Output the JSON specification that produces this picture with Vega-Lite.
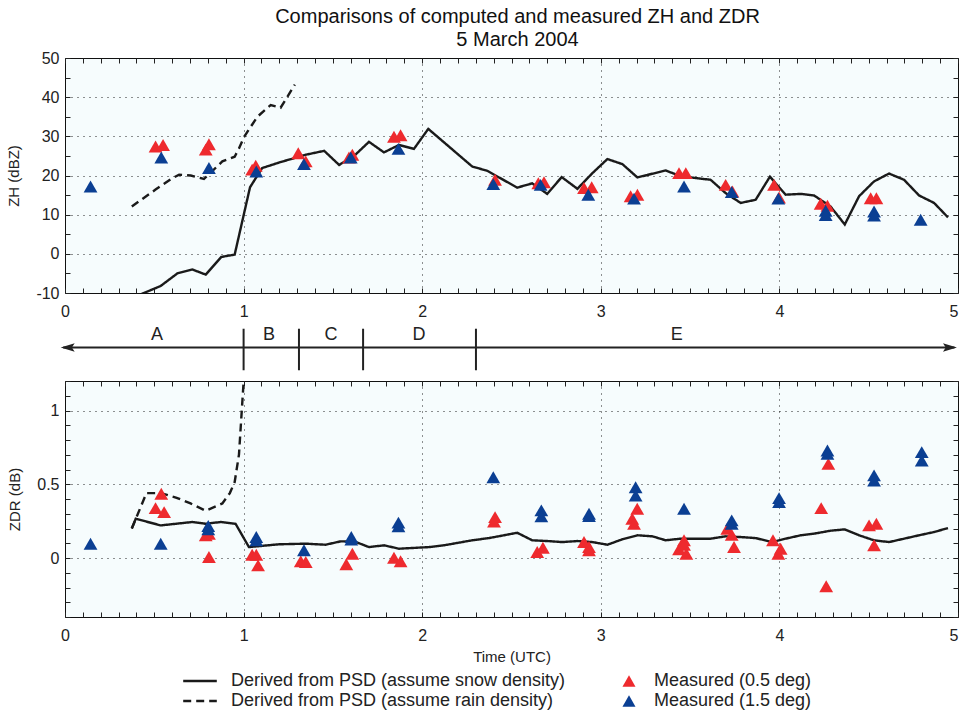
{
  "$schema": "https://vega.github.io/schema/vega-lite/v6.json",
  "padding": {"left": 6, "top": 6, "right": 0, "bottom": 0},
  "autosize": {"type": "pad"},
  "background": "white",
  "bounds": "flush",
  "spacing": 0,
  "title": {
    "text": ["Comparisons of computed and measured ZH and ZDR", "5 March 2004"],
    "fontSize": 20, "font": "Liberation Sans", "fontWeight": "normal", "color": "#111",
    "lineHeight": 23, "anchor": "middle", "frame": "group", "offset": 0, "dx": 6
  },
  "resolve": {"scale": {"color": "independent", "strokeDash": "independent", "shape": "independent"}},
  "config": {
    "font": "Liberation Sans",
    "view": {"stroke": "#111", "strokeWidth": 1, "fill": "#f6fcfd"},
    "axis": {
      "domain": false, "labelFont": "Liberation Sans", "labelFontSize": 16, "labelColor": "#222",
      "tickColor": "#222", "tickWidth": 1, "tickSize": -5, "gridColor": "#222", "gridDash": [1, 5],
      "gridWidth": 1, "labelFlush": false, "labelOverlap": false, "titleFont": "Liberation Sans",
      "titleFontSize": 15, "titleFontWeight": "normal", "titleColor": "#222"
    },
    "legend": {"labelFont": "Liberation Sans", "labelFontSize": 18, "labelColor": "#222", "labelLimit": 0}
  },
  "datasets": {
    "zh_lines": [
      {"time": 0.374, "value": -11.3, "series": "Derived from PSD (assume snow density)"},
      {"time": 0.536, "value": -8.2, "series": "Derived from PSD (assume snow density)"},
      {"time": 0.629, "value": -5.0, "series": "Derived from PSD (assume snow density)"},
      {"time": 0.713, "value": -4.0, "series": "Derived from PSD (assume snow density)"},
      {"time": 0.788, "value": -5.3, "series": "Derived from PSD (assume snow density)"},
      {"time": 0.875, "value": -0.8, "series": "Derived from PSD (assume snow density)"},
      {"time": 0.950, "value": -0.2, "series": "Derived from PSD (assume snow density)"},
      {"time": 1.036, "value": 17.0, "series": "Derived from PSD (assume snow density)"},
      {"time": 1.104, "value": 21.9, "series": "Derived from PSD (assume snow density)"},
      {"time": 1.198, "value": 23.3, "series": "Derived from PSD (assume snow density)"},
      {"time": 1.348, "value": 25.3, "series": "Derived from PSD (assume snow density)"},
      {"time": 1.451, "value": 26.3, "series": "Derived from PSD (assume snow density)"},
      {"time": 1.535, "value": 22.7, "series": "Derived from PSD (assume snow density)"},
      {"time": 1.619, "value": 25.0, "series": "Derived from PSD (assume snow density)"},
      {"time": 1.702, "value": 28.6, "series": "Derived from PSD (assume snow density)"},
      {"time": 1.786, "value": 25.9, "series": "Derived from PSD (assume snow density)"},
      {"time": 1.870, "value": 27.8, "series": "Derived from PSD (assume snow density)"},
      {"time": 1.954, "value": 26.8, "series": "Derived from PSD (assume snow density)"},
      {"time": 2.034, "value": 31.9, "series": "Derived from PSD (assume snow density)"},
      {"time": 2.280, "value": 22.3, "series": "Derived from PSD (assume snow density)"},
      {"time": 2.364, "value": 21.2, "series": "Derived from PSD (assume snow density)"},
      {"time": 2.532, "value": 16.9, "series": "Derived from PSD (assume snow density)"},
      {"time": 2.616, "value": 18.0, "series": "Derived from PSD (assume snow density)"},
      {"time": 2.700, "value": 15.3, "series": "Derived from PSD (assume snow density)"},
      {"time": 2.781, "value": 19.6, "series": "Derived from PSD (assume snow density)"},
      {"time": 2.869, "value": 16.6, "series": "Derived from PSD (assume snow density)"},
      {"time": 2.953, "value": 20.6, "series": "Derived from PSD (assume snow density)"},
      {"time": 3.037, "value": 24.2, "series": "Derived from PSD (assume snow density)"},
      {"time": 3.121, "value": 22.9, "series": "Derived from PSD (assume snow density)"},
      {"time": 3.205, "value": 19.5, "series": "Derived from PSD (assume snow density)"},
      {"time": 3.363, "value": 21.3, "series": "Derived from PSD (assume snow density)"},
      {"time": 3.447, "value": 19.8, "series": "Derived from PSD (assume snow density)"},
      {"time": 3.615, "value": 18.9, "series": "Derived from PSD (assume snow density)"},
      {"time": 3.699, "value": 15.5, "series": "Derived from PSD (assume snow density)"},
      {"time": 3.783, "value": 13.0, "series": "Derived from PSD (assume snow density)"},
      {"time": 3.867, "value": 13.8, "series": "Derived from PSD (assume snow density)"},
      {"time": 3.947, "value": 19.7, "series": "Derived from PSD (assume snow density)"},
      {"time": 4.035, "value": 15.1, "series": "Derived from PSD (assume snow density)"},
      {"time": 4.119, "value": 15.3, "series": "Derived from PSD (assume snow density)"},
      {"time": 4.194, "value": 14.9, "series": "Derived from PSD (assume snow density)"},
      {"time": 4.286, "value": 12.1, "series": "Derived from PSD (assume snow density)"},
      {"time": 4.366, "value": 7.5, "series": "Derived from PSD (assume snow density)"},
      {"time": 4.446, "value": 14.7, "series": "Derived from PSD (assume snow density)"},
      {"time": 4.530, "value": 18.5, "series": "Derived from PSD (assume snow density)"},
      {"time": 4.614, "value": 20.5, "series": "Derived from PSD (assume snow density)"},
      {"time": 4.698, "value": 18.9, "series": "Derived from PSD (assume snow density)"},
      {"time": 4.782, "value": 14.9, "series": "Derived from PSD (assume snow density)"},
      {"time": 4.866, "value": 13.0, "series": "Derived from PSD (assume snow density)"},
      {"time": 4.944, "value": 9.3, "series": "Derived from PSD (assume snow density)"},
      {"time": 0.374, "value": 12.1, "series": "Derived from PSD (assume rain density)"},
      {"time": 0.507, "value": 16.4, "series": "Derived from PSD (assume rain density)"},
      {"time": 0.601, "value": 19.3, "series": "Derived from PSD (assume rain density)"},
      {"time": 0.639, "value": 20.2, "series": "Derived from PSD (assume rain density)"},
      {"time": 0.704, "value": 20.0, "series": "Derived from PSD (assume rain density)"},
      {"time": 0.778, "value": 19.1, "series": "Derived from PSD (assume rain density)"},
      {"time": 0.881, "value": 23.6, "series": "Derived from PSD (assume rain density)"},
      {"time": 0.950, "value": 24.8, "series": "Derived from PSD (assume rain density)"},
      {"time": 0.974, "value": 26.9, "series": "Derived from PSD (assume rain density)"},
      {"time": 1.003, "value": 29.9, "series": "Derived from PSD (assume rain density)"},
      {"time": 1.077, "value": 35.0, "series": "Derived from PSD (assume rain density)"},
      {"time": 1.152, "value": 38.0, "series": "Derived from PSD (assume rain density)"},
      {"time": 1.207, "value": 37.3, "series": "Derived from PSD (assume rain density)"},
      {"time": 1.287, "value": 43.2, "series": "Derived from PSD (assume rain density)"}
    ],
    "zh_points": [
      {"time": 0.507, "value": 27.4, "elev": "Measured (0.5 deg)"},
      {"time": 0.549, "value": 27.8, "elev": "Measured (0.5 deg)"},
      {"time": 0.788, "value": 26.6, "elev": "Measured (0.5 deg)"},
      {"time": 0.806, "value": 28.0, "elev": "Measured (0.5 deg)"},
      {"time": 1.048, "value": 21.5, "elev": "Measured (0.5 deg)"},
      {"time": 1.068, "value": 22.5, "elev": "Measured (0.5 deg)"},
      {"time": 1.306, "value": 25.7, "elev": "Measured (0.5 deg)"},
      {"time": 1.348, "value": 23.6, "elev": "Measured (0.5 deg)"},
      {"time": 1.590, "value": 24.6, "elev": "Measured (0.5 deg)"},
      {"time": 1.609, "value": 25.3, "elev": "Measured (0.5 deg)"},
      {"time": 1.842, "value": 29.9, "elev": "Measured (0.5 deg)"},
      {"time": 1.879, "value": 30.3, "elev": "Measured (0.5 deg)"},
      {"time": 2.408, "value": 18.9, "elev": "Measured (0.5 deg)"},
      {"time": 2.650, "value": 18.0, "elev": "Measured (0.5 deg)"},
      {"time": 2.682, "value": 18.3, "elev": "Measured (0.5 deg)"},
      {"time": 2.906, "value": 16.8, "elev": "Measured (0.5 deg)"},
      {"time": 2.949, "value": 17.0, "elev": "Measured (0.5 deg)"},
      {"time": 3.167, "value": 14.7, "elev": "Measured (0.5 deg)"},
      {"time": 3.205, "value": 15.1, "elev": "Measured (0.5 deg)"},
      {"time": 3.438, "value": 20.6, "elev": "Measured (0.5 deg)"},
      {"time": 3.476, "value": 20.6, "elev": "Measured (0.5 deg)"},
      {"time": 3.699, "value": 17.6, "elev": "Measured (0.5 deg)"},
      {"time": 3.737, "value": 15.9, "elev": "Measured (0.5 deg)"},
      {"time": 3.970, "value": 17.6, "elev": "Measured (0.5 deg)"},
      {"time": 3.998, "value": 14.4, "elev": "Measured (0.5 deg)"},
      {"time": 4.231, "value": 12.8, "elev": "Measured (0.5 deg)"},
      {"time": 4.269, "value": 12.3, "elev": "Measured (0.5 deg)"},
      {"time": 4.511, "value": 14.2, "elev": "Measured (0.5 deg)"},
      {"time": 4.543, "value": 14.2, "elev": "Measured (0.5 deg)"},
      {"time": 0.143, "value": 17.2, "elev": "Measured (1.5 deg)"},
      {"time": 0.539, "value": 24.6, "elev": "Measured (1.5 deg)"},
      {"time": 0.806, "value": 21.9, "elev": "Measured (1.5 deg)"},
      {"time": 1.071, "value": 21.0, "elev": "Measured (1.5 deg)"},
      {"time": 1.338, "value": 22.9, "elev": "Measured (1.5 deg)"},
      {"time": 1.600, "value": 24.6, "elev": "Measured (1.5 deg)"},
      {"time": 1.867, "value": 26.8, "elev": "Measured (1.5 deg)"},
      {"time": 2.398, "value": 17.8, "elev": "Measured (1.5 deg)"},
      {"time": 2.663, "value": 17.6, "elev": "Measured (1.5 deg)"},
      {"time": 2.930, "value": 15.1, "elev": "Measured (1.5 deg)"},
      {"time": 3.186, "value": 14.1, "elev": "Measured (1.5 deg)"},
      {"time": 3.466, "value": 17.2, "elev": "Measured (1.5 deg)"},
      {"time": 3.733, "value": 15.8, "elev": "Measured (1.5 deg)"},
      {"time": 3.994, "value": 14.1, "elev": "Measured (1.5 deg)"},
      {"time": 4.259, "value": 11.0, "elev": "Measured (1.5 deg)"},
      {"time": 4.259, "value": 9.9, "elev": "Measured (1.5 deg)"},
      {"time": 4.530, "value": 10.8, "elev": "Measured (1.5 deg)"},
      {"time": 4.530, "value": 9.8, "elev": "Measured (1.5 deg)"},
      {"time": 4.791, "value": 8.7, "elev": "Measured (1.5 deg)"}
    ],
    "zdr_lines": [
      {"time": 0.374, "value": 0.20, "series": "Derived from PSD (assume snow density)"},
      {"time": 0.396, "value": 0.266, "series": "Derived from PSD (assume snow density)"},
      {"time": 0.536, "value": 0.221, "series": "Derived from PSD (assume snow density)"},
      {"time": 0.713, "value": 0.244, "series": "Derived from PSD (assume snow density)"},
      {"time": 0.788, "value": 0.232, "series": "Derived from PSD (assume snow density)"},
      {"time": 0.871, "value": 0.244, "series": "Derived from PSD (assume snow density)"},
      {"time": 0.955, "value": 0.232, "series": "Derived from PSD (assume snow density)"},
      {"time": 1.030, "value": 0.074, "series": "Derived from PSD (assume snow density)"},
      {"time": 1.198, "value": 0.093, "series": "Derived from PSD (assume snow density)"},
      {"time": 1.348, "value": 0.097, "series": "Derived from PSD (assume snow density)"},
      {"time": 1.459, "value": 0.090, "series": "Derived from PSD (assume snow density)"},
      {"time": 1.544, "value": 0.113, "series": "Derived from PSD (assume snow density)"},
      {"time": 1.619, "value": 0.113, "series": "Derived from PSD (assume snow density)"},
      {"time": 1.702, "value": 0.074, "series": "Derived from PSD (assume snow density)"},
      {"time": 1.786, "value": 0.086, "series": "Derived from PSD (assume snow density)"},
      {"time": 1.870, "value": 0.063, "series": "Derived from PSD (assume snow density)"},
      {"time": 2.038, "value": 0.074, "series": "Derived from PSD (assume snow density)"},
      {"time": 2.122, "value": 0.086, "series": "Derived from PSD (assume snow density)"},
      {"time": 2.280, "value": 0.120, "series": "Derived from PSD (assume snow density)"},
      {"time": 2.374, "value": 0.135, "series": "Derived from PSD (assume snow density)"},
      {"time": 2.532, "value": 0.171, "series": "Derived from PSD (assume snow density)"},
      {"time": 2.616, "value": 0.120, "series": "Derived from PSD (assume snow density)"},
      {"time": 2.700, "value": 0.115, "series": "Derived from PSD (assume snow density)"},
      {"time": 2.784, "value": 0.108, "series": "Derived from PSD (assume snow density)"},
      {"time": 2.869, "value": 0.115, "series": "Derived from PSD (assume snow density)"},
      {"time": 2.953, "value": 0.108, "series": "Derived from PSD (assume snow density)"},
      {"time": 3.037, "value": 0.090, "series": "Derived from PSD (assume snow density)"},
      {"time": 3.121, "value": 0.127, "series": "Derived from PSD (assume snow density)"},
      {"time": 3.205, "value": 0.154, "series": "Derived from PSD (assume snow density)"},
      {"time": 3.289, "value": 0.147, "series": "Derived from PSD (assume snow density)"},
      {"time": 3.363, "value": 0.120, "series": "Derived from PSD (assume snow density)"},
      {"time": 3.447, "value": 0.131, "series": "Derived from PSD (assume snow density)"},
      {"time": 3.615, "value": 0.131, "series": "Derived from PSD (assume snow density)"},
      {"time": 3.699, "value": 0.147, "series": "Derived from PSD (assume snow density)"},
      {"time": 3.783, "value": 0.142, "series": "Derived from PSD (assume snow density)"},
      {"time": 3.867, "value": 0.135, "series": "Derived from PSD (assume snow density)"},
      {"time": 3.960, "value": 0.108, "series": "Derived from PSD (assume snow density)"},
      {"time": 4.035, "value": 0.131, "series": "Derived from PSD (assume snow density)"},
      {"time": 4.119, "value": 0.154, "series": "Derived from PSD (assume snow density)"},
      {"time": 4.194, "value": 0.165, "series": "Derived from PSD (assume snow density)"},
      {"time": 4.286, "value": 0.185, "series": "Derived from PSD (assume snow density)"},
      {"time": 4.366, "value": 0.194, "series": "Derived from PSD (assume snow density)"},
      {"time": 4.446, "value": 0.154, "series": "Derived from PSD (assume snow density)"},
      {"time": 4.530, "value": 0.120, "series": "Derived from PSD (assume snow density)"},
      {"time": 4.614, "value": 0.108, "series": "Derived from PSD (assume snow density)"},
      {"time": 4.782, "value": 0.154, "series": "Derived from PSD (assume snow density)"},
      {"time": 4.866, "value": 0.176, "series": "Derived from PSD (assume snow density)"},
      {"time": 4.944, "value": 0.203, "series": "Derived from PSD (assume snow density)"},
      {"time": 0.374, "value": 0.20, "series": "Derived from PSD (assume rain density)"},
      {"time": 0.456, "value": 0.44, "series": "Derived from PSD (assume rain density)"},
      {"time": 0.538, "value": 0.44, "series": "Derived from PSD (assume rain density)"},
      {"time": 0.621, "value": 0.41, "series": "Derived from PSD (assume rain density)"},
      {"time": 0.703, "value": 0.37, "series": "Derived from PSD (assume rain density)"},
      {"time": 0.788, "value": 0.32, "series": "Derived from PSD (assume rain density)"},
      {"time": 0.881, "value": 0.37, "series": "Derived from PSD (assume rain density)"},
      {"time": 0.923, "value": 0.44, "series": "Derived from PSD (assume rain density)"},
      {"time": 0.950, "value": 0.515, "series": "Derived from PSD (assume rain density)"},
      {"time": 0.974, "value": 0.70, "series": "Derived from PSD (assume rain density)"},
      {"time": 1.032, "value": 1.80, "series": "Derived from PSD (assume rain density)"}
    ],
    "zdr_points": [
      {"time": 0.507, "value": 0.338, "elev": "Measured (0.5 deg)"},
      {"time": 0.539, "value": 0.435, "elev": "Measured (0.5 deg)"},
      {"time": 0.555, "value": 0.311, "elev": "Measured (0.5 deg)"},
      {"time": 0.788, "value": 0.154, "elev": "Measured (0.5 deg)"},
      {"time": 0.806, "value": 0.165, "elev": "Measured (0.5 deg)"},
      {"time": 0.806, "value": 0.007, "elev": "Measured (0.5 deg)"},
      {"time": 1.048, "value": 0.022, "elev": "Measured (0.5 deg)"},
      {"time": 1.071, "value": 0.022, "elev": "Measured (0.5 deg)"},
      {"time": 1.081, "value": -0.050, "elev": "Measured (0.5 deg)"},
      {"time": 1.320, "value": -0.022, "elev": "Measured (0.5 deg)"},
      {"time": 1.348, "value": -0.027, "elev": "Measured (0.5 deg)"},
      {"time": 1.575, "value": -0.043, "elev": "Measured (0.5 deg)"},
      {"time": 1.609, "value": 0.029, "elev": "Measured (0.5 deg)"},
      {"time": 1.842, "value": 0.002, "elev": "Measured (0.5 deg)"},
      {"time": 1.879, "value": -0.022, "elev": "Measured (0.5 deg)"},
      {"time": 2.402, "value": 0.248, "elev": "Measured (0.5 deg)"},
      {"time": 2.408, "value": 0.277, "elev": "Measured (0.5 deg)"},
      {"time": 2.644, "value": 0.041, "elev": "Measured (0.5 deg)"},
      {"time": 2.676, "value": 0.070, "elev": "Measured (0.5 deg)"},
      {"time": 2.906, "value": 0.108, "elev": "Measured (0.5 deg)"},
      {"time": 2.934, "value": 0.075, "elev": "Measured (0.5 deg)"},
      {"time": 2.934, "value": 0.052, "elev": "Measured (0.5 deg)"},
      {"time": 3.176, "value": 0.266, "elev": "Measured (0.5 deg)"},
      {"time": 3.186, "value": 0.232, "elev": "Measured (0.5 deg)"},
      {"time": 3.204, "value": 0.334, "elev": "Measured (0.5 deg)"},
      {"time": 3.438, "value": 0.059, "elev": "Measured (0.5 deg)"},
      {"time": 3.466, "value": 0.120, "elev": "Measured (0.5 deg)"},
      {"time": 3.466, "value": 0.090, "elev": "Measured (0.5 deg)"},
      {"time": 3.479, "value": 0.029, "elev": "Measured (0.5 deg)"},
      {"time": 3.708, "value": 0.198, "elev": "Measured (0.5 deg)"},
      {"time": 3.733, "value": 0.158, "elev": "Measured (0.5 deg)"},
      {"time": 3.746, "value": 0.074, "elev": "Measured (0.5 deg)"},
      {"time": 3.964, "value": 0.120, "elev": "Measured (0.5 deg)"},
      {"time": 3.994, "value": 0.029, "elev": "Measured (0.5 deg)"},
      {"time": 4.007, "value": 0.063, "elev": "Measured (0.5 deg)"},
      {"time": 4.234, "value": 0.338, "elev": "Measured (0.5 deg)"},
      {"time": 4.262, "value": -0.192, "elev": "Measured (0.5 deg)"},
      {"time": 4.274, "value": 0.638, "elev": "Measured (0.5 deg)"},
      {"time": 4.502, "value": 0.221, "elev": "Measured (0.5 deg)"},
      {"time": 4.543, "value": 0.232, "elev": "Measured (0.5 deg)"},
      {"time": 4.530, "value": 0.086, "elev": "Measured (0.5 deg)"},
      {"time": 0.143, "value": 0.097, "elev": "Measured (1.5 deg)"},
      {"time": 0.536, "value": 0.097, "elev": "Measured (1.5 deg)"},
      {"time": 0.802, "value": 0.217, "elev": "Measured (1.5 deg)"},
      {"time": 0.802, "value": 0.195, "elev": "Measured (1.5 deg)"},
      {"time": 1.071, "value": 0.142, "elev": "Measured (1.5 deg)"},
      {"time": 1.071, "value": 0.120, "elev": "Measured (1.5 deg)"},
      {"time": 1.338, "value": 0.052, "elev": "Measured (1.5 deg)"},
      {"time": 1.603, "value": 0.142, "elev": "Measured (1.5 deg)"},
      {"time": 1.603, "value": 0.125, "elev": "Measured (1.5 deg)"},
      {"time": 1.867, "value": 0.240, "elev": "Measured (1.5 deg)"},
      {"time": 1.867, "value": 0.215, "elev": "Measured (1.5 deg)"},
      {"time": 2.398, "value": 0.548, "elev": "Measured (1.5 deg)"},
      {"time": 2.667, "value": 0.323, "elev": "Measured (1.5 deg)"},
      {"time": 2.667, "value": 0.282, "elev": "Measured (1.5 deg)"},
      {"time": 2.934, "value": 0.300, "elev": "Measured (1.5 deg)"},
      {"time": 2.934, "value": 0.285, "elev": "Measured (1.5 deg)"},
      {"time": 3.195, "value": 0.480, "elev": "Measured (1.5 deg)"},
      {"time": 3.195, "value": 0.424, "elev": "Measured (1.5 deg)"},
      {"time": 3.466, "value": 0.334, "elev": "Measured (1.5 deg)"},
      {"time": 3.733, "value": 0.255, "elev": "Measured (1.5 deg)"},
      {"time": 3.733, "value": 0.232, "elev": "Measured (1.5 deg)"},
      {"time": 3.998, "value": 0.406, "elev": "Measured (1.5 deg)"},
      {"time": 3.998, "value": 0.379, "elev": "Measured (1.5 deg)"},
      {"time": 4.269, "value": 0.729, "elev": "Measured (1.5 deg)"},
      {"time": 4.269, "value": 0.706, "elev": "Measured (1.5 deg)"},
      {"time": 4.530, "value": 0.560, "elev": "Measured (1.5 deg)"},
      {"time": 4.530, "value": 0.526, "elev": "Measured (1.5 deg)"},
      {"time": 4.797, "value": 0.718, "elev": "Measured (1.5 deg)"},
      {"time": 4.797, "value": 0.661, "elev": "Measured (1.5 deg)"}
    ],
    "phase_bounds": [
      {"time": 1.0}, {"time": 1.31}, {"time": 1.669}, {"time": 2.301}
    ],
    "phase_labels": [
      {"time": 0.515, "label": "A"}, {"time": 1.142, "label": "B"}, {"time": 1.489, "label": "C"},
      {"time": 1.982, "label": "D"}, {"time": 3.425, "label": "E"}
    ]
  },
  "vconcat": [
    {
      "width": 893, "height": 235,
      "layer": [
        {
          "data": {"name": "zh_lines"},
          "mark": {"type": "line", "color": "#1a1a1a", "strokeWidth": 2.4, "clip": true},
          "encoding": {
            "x": {"field": "time", "type": "quantitative",
              "scale": {"domain": [0, 5], "nice": false, "zero": false},
              "axis": {"orient": "bottom", "title": null, "labelPadding": 15,
                "values": [0,0.1,0.2,0.3,0.4,0.5,0.6,0.7,0.8,0.9,1,1.1,1.2,1.3,1.4,1.5,1.6,1.7,1.8,1.9,2,2.1,2.2,2.3,2.4,2.5,2.6,2.7,2.8,2.9,3,3.1,3.2,3.3,3.4,3.5,3.6,3.7,3.8,3.9,4,4.1,4.2,4.3,4.4,4.5,4.6,4.7,4.8,4.9,5],
                "labelExpr": "datum.value % 1 === 0 ? '' + datum.value : ''",
                "labelAlign": {"condition": {"test": "datum.value === 5", "value": "right"}, "value": "center"},
                "grid": true,
                "gridOpacity": {"condition": {"test": "datum.value % 1 === 0 && datum.value > 0 && datum.value < 5", "value": 1}, "value": 0}}},
            "y": {"field": "value", "type": "quantitative",
              "scale": {"domain": [-10, 50], "nice": false, "zero": false},
              "axis": {"orient": "left", "title": "ZH (dBZ)", "labelPadding": 11, "titlePadding": 14,
                "values": [-10,-5,0,5,10,15,20,25,30,35,40,45,50],
                "labelExpr": "datum.value % 10 === 0 ? '' + datum.value : ''",
                "grid": true,
                "gridOpacity": {"condition": {"test": "datum.value % 10 === 0 && datum.value > -10 && datum.value < 50", "value": 1}, "value": 0}}},
            "strokeDash": {"field": "series", "type": "nominal",
              "scale": {"domain": ["Derived from PSD (assume snow density)", "Derived from PSD (assume rain density)"], "range": [[1, 0], [8, 5]]},
              "legend": null}
          }
        },
        {
          "data": {"name": "zh_points"},
          "mark": {"type": "point", "shape": "triangle-up", "filled": true, "opacity": 1, "size": 190, "clip": true},
          "encoding": {
            "x": {"field": "time", "type": "quantitative",
              "scale": {"domain": [0, 5], "nice": false, "zero": false},
              "axis": {"orient": "top", "title": null, "labels": false, "grid": false,
                "values": [0,0.1,0.2,0.3,0.4,0.5,0.6,0.7,0.8,0.9,1,1.1,1.2,1.3,1.4,1.5,1.6,1.7,1.8,1.9,2,2.1,2.2,2.3,2.4,2.5,2.6,2.7,2.8,2.9,3,3.1,3.2,3.3,3.4,3.5,3.6,3.7,3.8,3.9,4,4.1,4.2,4.3,4.4,4.5,4.6,4.7,4.8,4.9,5]}},
            "y": {"field": "value", "type": "quantitative",
              "scale": {"domain": [-10, 50], "nice": false, "zero": false},
              "axis": {"orient": "right", "title": null, "labels": false, "grid": false,
                "values": [-10,-5,0,5,10,15,20,25,30,35,40,45,50]}},
            "color": {"field": "elev", "type": "nominal",
              "scale": {"domain": ["Measured (0.5 deg)", "Measured (1.5 deg)"], "range": ["#ee2a2e", "#0b3f93"]},
              "legend": null}
          }
        }
      ]
    },
    {
      "width": 893, "height": 88,
      "view": {"stroke": null, "fill": null},
      "layer": [
        {
          "data": {"values": [{}]},
          "mark": {"type": "rule", "color": "#222", "strokeWidth": 2},
          "encoding": {
            "x": {"datum": -0.01, "type": "quantitative", "scale": {"domain": [0, 5], "nice": false, "zero": false}, "axis": null},
            "x2": {"datum": 4.98},
            "y": {"datum": 0.38, "type": "quantitative", "scale": {"domain": [0, 1], "nice": false, "zero": false}, "axis": null}
          }
        },
        {
          "data": {"values": [{}]},
          "mark": {"type": "point", "filled": true, "color": "#222", "opacity": 1, "size": 196, "shape": "M-1,0L1,-0.6L0.6,0L1,0.6Z"},
          "encoding": {
            "x": {"datum": 0.015, "type": "quantitative"},
            "y": {"datum": 0.38, "type": "quantitative"}
          }
        },
        {
          "data": {"values": [{}]},
          "mark": {"type": "point", "filled": true, "color": "#222", "opacity": 1, "size": 196, "shape": "M1,0L-1,-0.6L-0.6,0L-1,0.6Z"},
          "encoding": {
            "x": {"datum": 4.955, "type": "quantitative"},
            "y": {"datum": 0.38, "type": "quantitative"}
          }
        },
        {
          "data": {"name": "phase_bounds"},
          "mark": {"type": "rule", "color": "#222", "strokeWidth": 2},
          "encoding": {
            "x": {"field": "time", "type": "quantitative"},
            "y": {"datum": 0.122, "type": "quantitative"},
            "y2": {"datum": 0.594}
          }
        },
        {
          "data": {"name": "phase_labels"},
          "mark": {"type": "text", "color": "#222", "fontSize": 18, "font": "Liberation Sans", "baseline": "middle", "align": "center"},
          "encoding": {
            "x": {"field": "time", "type": "quantitative"},
            "y": {"datum": 0.519, "type": "quantitative"},
            "text": {"field": "label"}
          }
        }
      ]
    },
    {
      "width": 893, "height": 236,
      "layer": [
        {
          "data": {"name": "zdr_lines"},
          "mark": {"type": "line", "color": "#1a1a1a", "strokeWidth": 2.4, "clip": true},
          "encoding": {
            "x": {"field": "time", "type": "quantitative",
              "scale": {"domain": [0, 5], "nice": false, "zero": false},
              "axis": {"orient": "bottom", "title": "Time (UTC)", "labelPadding": 15, "titlePadding": 6,
                "values": [0,0.1,0.2,0.3,0.4,0.5,0.6,0.7,0.8,0.9,1,1.1,1.2,1.3,1.4,1.5,1.6,1.7,1.8,1.9,2,2.1,2.2,2.3,2.4,2.5,2.6,2.7,2.8,2.9,3,3.1,3.2,3.3,3.4,3.5,3.6,3.7,3.8,3.9,4,4.1,4.2,4.3,4.4,4.5,4.6,4.7,4.8,4.9,5],
                "labelExpr": "datum.value % 1 === 0 ? '' + datum.value : ''",
                "labelAlign": {"condition": {"test": "datum.value === 5", "value": "right"}, "value": "center"},
                "grid": true,
                "gridOpacity": {"condition": {"test": "datum.value % 1 === 0 && datum.value > 0 && datum.value < 5", "value": 1}, "value": 0}}},
            "y": {"field": "value", "type": "quantitative",
              "scale": {"domain": [-0.4, 1.2], "nice": false, "zero": false},
              "axis": {"orient": "left", "title": "ZDR (dB)", "labelPadding": 11, "titlePadding": 14,
                "values": [-0.4,-0.3,-0.2,-0.1,0,0.1,0.2,0.3,0.4,0.5,0.6,0.7,0.8,0.9,1,1.1,1.2],
                "labelExpr": "datum.value === 0 ? '0' : datum.value === 0.5 ? '0.5' : datum.value === 1 ? '1' : ''",
                "grid": true,
                "gridOpacity": {"condition": {"test": "datum.value === 0 || datum.value === 0.5 || datum.value === 1", "value": 1}, "value": 0}}},
            "strokeDash": {"field": "series", "type": "nominal",
              "scale": {"domain": ["Derived from PSD (assume snow density)", "Derived from PSD (assume rain density)"], "range": [[1, 0], [8, 5]]},
              "legend": {"orient": "none", "legendX": 126, "legendY": 291, "title": null,
                "symbolType": "M-2.4,0L2.4,0", "symbolSize": 196, "symbolStrokeWidth": 2.5, "symbolStrokeColor": "#1a1a1a",
                "labelOffset": 22, "rowPadding": 2, "labelFontSize": 18}}
          }
        },
        {
          "data": {"name": "zdr_points"},
          "mark": {"type": "point", "shape": "triangle-up", "filled": true, "opacity": 1, "size": 190, "clip": true},
          "encoding": {
            "x": {"field": "time", "type": "quantitative",
              "scale": {"domain": [0, 5], "nice": false, "zero": false},
              "axis": {"orient": "top", "title": null, "labels": false, "grid": false,
                "values": [0,0.1,0.2,0.3,0.4,0.5,0.6,0.7,0.8,0.9,1,1.1,1.2,1.3,1.4,1.5,1.6,1.7,1.8,1.9,2,2.1,2.2,2.3,2.4,2.5,2.6,2.7,2.8,2.9,3,3.1,3.2,3.3,3.4,3.5,3.6,3.7,3.8,3.9,4,4.1,4.2,4.3,4.4,4.5,4.6,4.7,4.8,4.9,5]}},
            "y": {"field": "value", "type": "quantitative",
              "scale": {"domain": [-0.4, 1.2], "nice": false, "zero": false},
              "axis": {"orient": "right", "title": null, "labels": false, "grid": false,
                "values": [-0.4,-0.3,-0.2,-0.1,0,0.1,0.2,0.3,0.4,0.5,0.6,0.7,0.8,0.9,1,1.1,1.2]}},
            "color": {"field": "elev", "type": "nominal",
              "scale": {"domain": ["Measured (0.5 deg)", "Measured (1.5 deg)"], "range": ["#ee2a2e", "#0b3f93"]},
              "legend": {"orient": "none", "legendX": 555, "legendY": 291, "title": null,
                "symbolType": "triangle-up", "symbolSize": 170, "symbolOpacity": 1, "symbolStrokeWidth": 0,
                "labelOffset": 16, "rowPadding": 2, "labelFontSize": 18}}
          }
        }
      ]
    }
  ]
}
